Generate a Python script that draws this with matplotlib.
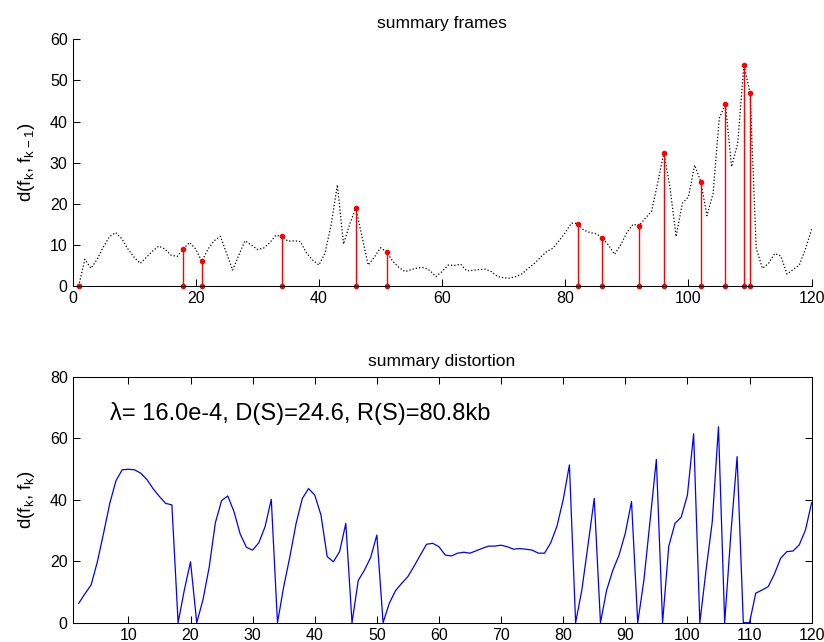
import numpy as np
import matplotlib
matplotlib.use('Agg')
import matplotlib.pyplot as plt

plt.rcParams['font.family'] = ['Liberation Sans', 'DejaVu Sans']
plt.rcParams['mathtext.default'] = 'regular'

# d(f_k, f_k-1) for frames 1..120
frames = np.arange(1, 121)
d_frames = [0, 6.5, 4.3, 6.5, 9.5, 12, 13, 11.5, 9, 7,
            5.5, 7, 8.5, 9.7, 9, 7.5, 7.2, 9, 10.6, 9,
            6, 9, 11, 12.1, 8, 3.9, 7.5, 11, 10, 8.9,
            9.2, 10.5, 12.3, 12.1, 10.9, 11, 10.8, 8, 6.3, 5.1,
            8, 15, 24.6, 10.2, 15, 19, 12, 5.1, 7, 9.3,
            8.3, 6, 4.5, 3.5, 4, 4.4, 4.5, 3.8, 2.3, 3.5,
            5.1, 5, 5.3, 3.7, 3.8, 4, 4.1, 3.5, 2.3, 2,
            1.9, 2.3, 3, 4.3, 5.5, 7, 8.4, 9.2, 11, 13,
            15.3, 15.2, 13.6, 13, 12.7, 11.7, 10, 7.7, 10, 13,
            15, 14.7, 16.5, 18.1, 25, 32.4, 24, 12, 20.1, 21.7,
            29.4, 25.4, 17.1, 22.5, 40.8, 44.2, 29, 34.7, 53.8, 47,
            9.2, 4.3, 5.5, 7.9, 7.3, 2.9, 4, 5.1, 9, 13.8]

# selected summary frames
keyframes = [1, 18, 21, 34, 46, 51, 82, 86, 92, 96, 102, 106, 109, 110]

# distortion d(f_k', f_k) for frames 2..120
dist_x = np.arange(2, 121)
d_dist = [6.3, 9.4, 12.3, 19.8, 29.1, 38.8, 46.2, 49.7, 49.9,
          49.7, 48.6, 46.5, 43.5, 41, 38.8, 38.3, 0, 10.6, 19.8,
          0, 7.4, 18, 32.5, 39.7, 41.2, 36.1, 28.8, 24.5, 23.6,
          26, 31.2, 40.1, 0, 11.7, 21.5, 32.3, 40.4, 43.6, 41.5,
          35, 21.5, 19.8, 23.1, 32.3, 0, 13.7, 17.1, 21.2, 28.5,
          0, 6.3, 10.4, 12.8, 15, 18.4, 22, 25.5, 25.8, 24.7,
          22, 21.7, 22.6, 22.9, 22.6, 23.4, 24.2, 24.9, 24.9, 25.2,
          24.7, 23.9, 24.1, 23.9, 23.6, 22.6, 22.6, 26, 31.4, 40,
          51.3, 0, 10.6, 25.3, 40.4, 0, 10.6, 17.1, 22, 29.1,
          39.4, 0, 13.9, 33.4, 53.1, 0, 24.9, 32.3, 34.3, 41.5,
          61.4, 0, 17.1, 32.8, 63.7, 0, 29.1, 54, 0, 0,
          9.6, 10.6, 11.7, 15.8, 20.9, 23.1, 23.3, 25.3, 30.1, 39]

label_text = '\u03bb= 16.0e-4, D(S)=24.6, R(S)=80.8kb'

fig = plt.figure(figsize=(8.24, 6.42), dpi=100)

# top: summary frames
ax1 = fig.add_axes([0.088, 0.5545, 0.897, 0.3843])
ax1.plot(frames, d_frames, ':', color='k', linewidth=0.9)
kf = np.array(keyframes)
kv = np.array(d_frames)[kf - 1]
ax1.vlines(kf, 0, kv, color='r', linewidth=1.0)
ax1.plot(kf, kv, 'o', color='r', markersize=3)
ax1.plot(kf, np.zeros(len(kf)), 'o', color='r', markersize=3, clip_on=False)
ax1.set_xlim(0, 120)
ax1.set_ylim(0, 60)
ax1.set_xticks(range(0, 121, 20))
ax1.set_yticks(range(0, 61, 10))
ax1.spines['top'].set_visible(False)
ax1.spines['right'].set_visible(False)
ax1.tick_params(direction='in', length=5, width=0.75, labelsize=11.5)
ax1.set_title('summary frames', fontsize=12.5, pad=8)
ax1.set_ylabel('d(f$_k$, f$_{k-1}$)', fontsize=13.5, labelpad=9)

# bottom: summary distortion
ax2 = fig.add_axes([0.088, 0.0301, 0.897, 0.3832])
ax2.plot(dist_x, d_dist, '-', color='b', linewidth=0.9)
ax2.set_xlim(1, 120)
ax2.set_ylim(0, 80)
ax2.set_xticks(range(10, 121, 10))
ax2.set_yticks(range(0, 81, 20))
ax2.tick_params(direction='in', length=5, width=0.75, labelsize=11.5,
                top=True, right=True)
ax2.set_title('summary distortion', fontsize=12.5, pad=8)
ax2.set_ylabel('d(f$_k$, f$_k$)', fontsize=13.5, labelpad=9)
ax2.text(7, 68, label_text, fontsize=17, va='center', ha='left')

for ax in (ax1, ax2):
    for s in ax.spines.values():
        s.set_linewidth(0.75)

fig.savefig('out.png', dpi=100)
